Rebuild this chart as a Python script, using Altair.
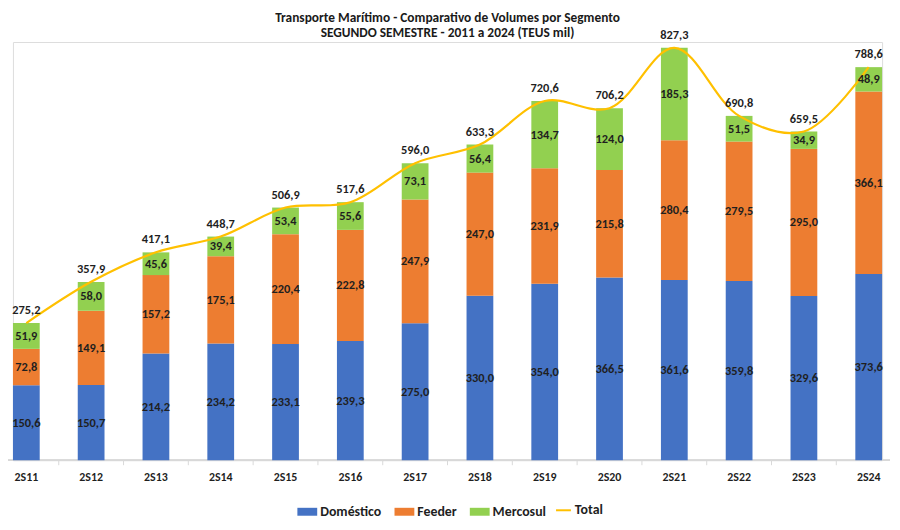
import altair as alt
import pandas as pd

semestres = ["2S11", "2S12", "2S13", "2S14", "2S15", "2S16", "2S17",
             "2S18", "2S19", "2S20", "2S21", "2S22", "2S23", "2S24"]
domestico = [150.6, 150.7, 214.2, 234.2, 233.1, 239.3, 275.0,
             330.0, 354.0, 366.5, 361.6, 359.8, 329.6, 373.6]
feeder = [72.8, 149.1, 157.2, 175.1, 220.4, 222.8, 247.9,
          247.0, 231.9, 215.8, 280.4, 279.5, 295.0, 366.1]
mercosul = [51.9, 58.0, 45.6, 39.4, 53.4, 55.6, 73.1,
            56.4, 134.7, 124.0, 185.3, 51.5, 34.9, 48.9]
total = [275.2, 357.9, 417.1, 448.7, 506.9, 517.6, 596.0,
         633.3, 720.6, 706.2, 827.3, 690.8, 659.5, 788.6]

segmentos = ["Doméstico", "Feeder", "Mercosul"]
cores = ["#4472C4", "#ED7D31", "#92D050"]
cor_total = "#FFC000"
FONT = "Carlito, Calibri, Lato, sans-serif"
TXT = "#1f1f1f"


def fmt(v):
    return f"{v:.1f}".replace(".", ",")


rows = []
for i, s in enumerate(semestres):
    base = 0.0
    for seg, vals in zip(segmentos, [domestico, feeder, mercosul]):
        v = vals[i]
        rows.append(dict(sem=s, seg=seg, y0=base, y1=base + v,
                         ymid=base + v / 2, label=fmt(v)))
        base += v
df = pd.DataFrame(rows)
tot = pd.DataFrame(dict(sem=semestres, total=total,
                        label=[fmt(v) for v in total], serie="Total"))
ticks_df = pd.DataFrame(dict(sem=semestres[1:]))

W, H = 877, 422
STEP = W / (14 - 0.587)

xenc = alt.X("sem:N", sort=semestres,
             scale=alt.Scale(paddingInner=0.587, paddingOuter=0),
             axis=alt.Axis(title=None, labelAngle=0, labelAlign="center",
                           labelBaseline="middle", domain=False, ticks=False,
                           grid=False, labelFont=FONT, labelFontSize=12,
                           labelFontWeight="bold", labelColor=TXT,
                           labelPadding=16, bandPosition=0.5))
yscale = alt.Scale(domain=[0, 839], nice=False)

bars = alt.Chart(df).mark_bar().encode(
    x=xenc,
    y=alt.Y("y1:Q", scale=yscale, axis=None),
    y2="y0:Q",
    color=alt.Color("seg:N", scale=alt.Scale(domain=segmentos, range=cores),
                    legend=alt.Legend(title=None, orient="none", direction="horizontal",
                                      legendX=287, legendY=464,
                                      symbolType="M-1,-0.4H1V0.4H-1Z", symbolSize=400,
                                      symbolStrokeWidth=0, labelFont=FONT,
                                      labelFontSize=14, labelFontWeight="bold",
                                      labelColor=TXT, labelOffset=3, columnPadding=13)),
)

seg_labels = alt.Chart(df).mark_text(font=FONT, fontSize=12.5, fontWeight="bold",
                                     color=TXT, baseline="middle").encode(
    x=alt.X("sem:N", sort=semestres),
    y=alt.Y("ymid:Q", scale=yscale, axis=None),
    text="label:N",
)

line = alt.Chart(tot).mark_line(interpolate="catmull-rom", strokeWidth=2.2).encode(
    x=alt.X("sem:N", sort=semestres),
    y=alt.Y("total:Q", scale=yscale, axis=None),
    stroke=alt.Stroke("serie:N", scale=alt.Scale(domain=["Total"], range=[cor_total]),
                      legend=alt.Legend(title=None, orient="none", direction="horizontal",
                                        legendX=547, legendY=464, symbolType="stroke",
                                        symbolSize=225, symbolStrokeWidth=2,
                                        labelFont=FONT, labelFontSize=14,
                                        labelFontWeight="bold", labelColor=TXT,
                                        labelOffset=3)),
)

tot_labels = alt.Chart(tot).mark_text(font=FONT, fontSize=12.5, fontWeight="bold",
                                      color=TXT, baseline="middle", dy=-13).encode(
    x=alt.X("sem:N", sort=semestres),
    y=alt.Y("total:Q", scale=yscale, axis=None),
    text="label:N",
)

tick_rules = alt.Chart(ticks_df).mark_rule(color="#d9d9d9", xOffset=-STEP / 2).encode(
    x=alt.X("sem:N", sort=semestres),
    y=alt.value(H), y2=alt.value(H + 5),
)

domain_rule = alt.Chart(tot).mark_rule(color="#d9d9d9").encode(
    x=alt.value(-13), x2=alt.value(885), y=alt.value(H),
)

chart = alt.layer(domain_rule, tick_rules, bars, line, seg_labels, tot_labels).properties(
    width=W, height=H,
    title=alt.TitleParams(
        ["Transporte Marítimo - Comparativo de Volumes por Segmento",
         "SEGUNDO SEMESTRE - 2011 a 2024 (TEUS mil)"],
        font=FONT, fontSize=13.5, fontWeight="bold", color="#1a1a1a",
        anchor="middle", lineHeight=15.5, offset=-11),
    autosize=alt.AutoSizeParams(type="none"),
    padding={"left": 5, "top": 32, "right": 10, "bottom": 60},
).configure_view(stroke=None).configure(background="white")

chart.save("out.html", embed_options={"renderer": "svg", "actions": False})
